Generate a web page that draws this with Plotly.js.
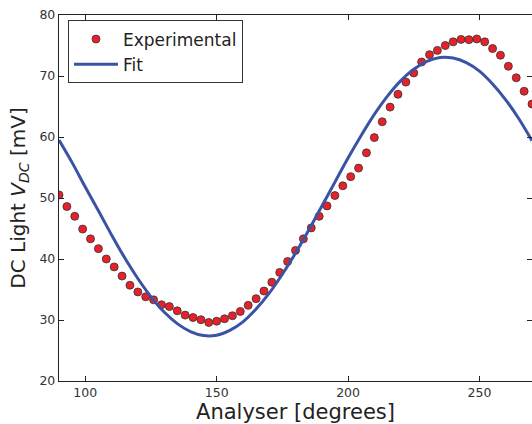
<!DOCTYPE html>
<html><head><meta charset="utf-8">
<script src="https://cdn.plot.ly/plotly-3.0.1.min.js"></script>
<style>html,body{margin:0;padding:0;background:#fff}</style>
</head><body>
<div id="chart" style="width:532px;height:424px"></div>
<script>
var angles = [90,93,96,99,102,105,108,111,114,117,120,123,126,129,132,135,138,141,144,147,150,153,156,159,162,165,168,171,174,177,180,183,186,189,192,195,198,201,204,207,210,213,216,219,222,225,228,231,234,237,240,243,246,249,252,255,258,261,264,267,270];
var experimental = [50.5,48.6,47.0,44.9,43.3,41.7,40.0,38.7,37.2,35.7,34.6,33.8,33.3,32.5,32.2,31.5,30.8,30.4,30.05,29.6,29.8,30.2,30.7,31.4,32.4,33.5,34.75,36.2,37.8,39.6,41.4,43.3,45.1,47.0,48.7,50.4,52.0,53.5,54.9,57.4,59.9,62.5,64.9,67.0,69.0,70.5,72.3,73.5,74.2,75.0,75.6,76.0,75.96,76.07,75.6,74.5,73.4,71.6,69.7,67.5,65.4];
var fitAngles = [90,95,100,105,110,115,120,125,130,135,140,145,150,155,160,165,170,175,180,185,190,195,200,205,210,215,220,225,230,235,240,245,250,255,260,265,270];
var fitValues = [59.5,55.8,51.8,47.9,43.95,40.2,36.8,33.8,31.3,29.4,28.1,27.45,27.5,28.3,29.7,31.8,34.4,37.5,40.95,44.7,48.65,52.6,56.55,60.25,63.7,66.7,69.2,71.1,72.4,73.05,72.95,72.2,70.8,68.7,66.1,63.0,59.4];
var xTicks = [100,150,200,250];
var yTicks = [20,30,40,50,60,70,80];

var traces = [
  {x: angles, y: experimental, name: 'Experimental', type: 'scatter', mode: 'markers',
   marker: {color: '#e8202a', size: 8, line: {color: '#333333', width: 0.8}}},
  {x: fitAngles, y: fitValues, name: 'Fit', type: 'scatter', mode: 'lines',
   line: {color: '#3a53a4', width: 3, shape: 'spline', smoothing: 1}}
];
var axisCommon = {
  showgrid: false, zeroline: false, showline: true, linecolor: '#222', linewidth: 1.2,
  mirror: 'ticks', ticks: 'inside', ticklen: 5, tickwidth: 1, tickcolor: '#222',
  tickfont: {family: 'DejaVu Sans', size: 12.5, color: '#333'}
};
var layout = {
  width: 532, height: 424,
  margin: {l: 59, r: 0, t: 15, b: 43},
  paper_bgcolor: '#fff', plot_bgcolor: '#fff',
  font: {family: 'DejaVu Sans', color: '#222'},
  xaxis: Object.assign({}, axisCommon, {range: [90, 270], tickvals: xTicks,
    title: {text: 'Analyser [degrees]', font: {size: 21, color: '#222'}, standoff: 4}}),
  yaxis: Object.assign({}, axisCommon, {range: [20, 80], tickvals: yTicks,
    title: {text: 'DC Light <i>V</i><sub><i>DC</i></sub> [mV]', font: {size: 20, color: '#222'}, standoff: 8}}),
  showlegend: true,
  legend: {x: 0.019, y: 0.985, xanchor: 'left', yanchor: 'top',
    bgcolor: '#fff', bordercolor: '#333', borderwidth: 1,
    font: {family: 'DejaVu Sans', size: 17, color: '#222'}, itemwidth: 44}
};
Plotly.newPlot('chart', traces, layout, {displayModeBar: false, staticPlot: true});
</script>
</body></html>
